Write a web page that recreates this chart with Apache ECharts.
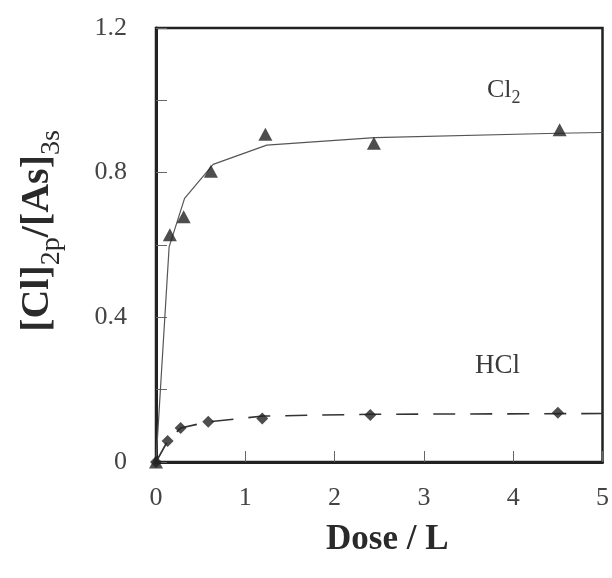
<!DOCTYPE html>
<html>
<head>
<meta charset="utf-8">
<script src="https://cdn.jsdelivr.net/npm/echarts@6/dist/echarts.min.js"></script>
<style>
html,body{margin:0;padding:0;background:#fff;}
#c{width:612px;height:578px;}
</style>
</head>
<body>
<div id="c"></div>
<script>
// Measured data (Dose in L, ratio [Cl]2p/[As]3s)
const cl2Dose  = [0, 0.155, 0.31, 0.615, 1.225, 2.44, 4.52];
const cl2Ratio = [0, 0.628, 0.678, 0.804, 0.906, 0.881, 0.919];
const hclDose  = [0, 0.13, 0.276, 0.585, 1.19, 2.40, 4.50];
const hclRatio = [0, 0.058, 0.094, 0.111, 0.120, 0.130, 0.136];
// Fitted curves as drawn
const cl2FitDose  = [0, 0.147, 0.32, 0.64, 1.24, 2.45, 4.5, 5];
const cl2FitRatio = [0, 0.595, 0.729, 0.823, 0.876, 0.897, 0.909, 0.911];
const hclFitDose  = [0, 0.13, 0.276, 0.585, 1.2, 2.4, 5];
const hclFitRatio = [0, 0.058, 0.094, 0.111, 0.127, 0.132, 0.134];
// Axis labels
const xTickLabels = ['0', '1', '2', '3', '4', '5'];
const yTickLabels = ['0', '0.4', '0.8', '1.2'];

const pair = (xs, ys) => xs.map((x, i) => [x, ys[i]]);
const serif = '"Liberation Serif", "DejaVu Serif", serif';

const chart = echarts.init(document.getElementById('c'), null, {renderer: 'canvas'});
chart.setOption({
  animation: false,
  backgroundColor: '#fff',
  grid: {left: 156, right: 3, top: 28, bottom: 116, show: true, borderColor: '#222', borderWidth: 2.5, backgroundColor: 'transparent'},
  xAxis: {
    type: 'value', min: 0, max: 5, interval: 1,
    axisLine: {show: true, onZero: false, lineStyle: {color: '#222', width: 3}},
    axisTick: {show: true, inside: true, length: 11, lineStyle: {color: '#666', width: 1}},
    splitLine: {show: false},
    axisLabel: {
      margin: 23, color: '#444', fontFamily: serif, fontSize: 26,
      formatter: v => { const i = Math.round(v); return Math.abs(v - i) < 1e-6 ? xTickLabels[i] : ''; }
    },
    name: 'Dose / L', nameLocation: 'middle', nameGap: 60,
    nameTextStyle: {fontFamily: serif, fontWeight: 'bold', fontSize: 35, color: '#2a2a2a', padding: [0, 0, 0, 16]}
  },
  yAxis: {
    type: 'value', min: 0, max: 1.2, interval: 0.2,
    axisLine: {show: true, onZero: false, lineStyle: {color: '#222', width: 3}},
    axisTick: {show: true, inside: true, length: 11, lineStyle: {color: '#666', width: 1}},
    splitLine: {show: false},
    axisLabel: {
      margin: 29, color: '#444', fontFamily: serif, fontSize: 26,
      formatter: v => { const s = yTickLabels.find(t => Math.abs(parseFloat(t) - v) < 1e-6); return s === undefined ? '' : s; }
    },
    name: '{m|[Cl]}{s|2p}{m|/[As]}{s|3s}',
    nameLocation: 'middle', nameRotate: 90, nameGap: 90,
    nameTextStyle: {
      padding: [0, 0, 0, 28],
      rich: {
        m: {fontFamily: serif, fontWeight: 'bold', fontSize: 40, color: '#2a2a2a', lineHeight: 38, padding: [0, 0, 8, 0], verticalAlign: 'bottom'},
        s: {fontFamily: serif, fontWeight: 'normal', fontSize: 28, color: '#2a2a2a', lineHeight: 26, padding: [20, 0, 0, 0], verticalAlign: 'bottom'}
      }
    }
  },
  series: [
    {type: 'line', data: pair(cl2FitDose, cl2FitRatio), symbol: 'none', silent: true, z: 2,
     lineStyle: {color: '#555', width: 1.2, type: 'solid'}},
    {type: 'line', data: pair(hclFitDose, hclFitRatio), symbol: 'none', silent: true, z: 2,
     lineStyle: {color: '#333', width: 1.6, type: [22, 15]}},
    {type: 'scatter', data: pair(cl2Dose, cl2Ratio), symbol: 'triangle', symbolSize: [14, 13], z: 3,
     itemStyle: {color: '#222'}},
    {type: 'scatter', data: pair(hclDose, hclRatio), symbol: 'diamond', symbolSize: [12, 12], z: 3,
     itemStyle: {color: '#222'}}
  ],
  graphic: [
    {type: 'text', left: 487, top: 77, z: 10,
     style: {text: '{m|Cl}{s|2}', rich: {
       m: {fontFamily: serif, fontSize: 26, fill: '#3a3a3a', lineHeight: 26, verticalAlign: 'bottom', padding: [0, 0, 4, 0]},
       s: {fontFamily: serif, fontSize: 18, fill: '#3a3a3a', lineHeight: 18, verticalAlign: 'bottom', padding: [12, 0, 0, 0]}
     }}},
    {type: 'text', left: 475, top: 352, z: 10,
     style: {text: 'HCl', fontFamily: serif, fontSize: 27, fill: '#3a3a3a'}}
  ]
});
</script>
</body>
</html>
